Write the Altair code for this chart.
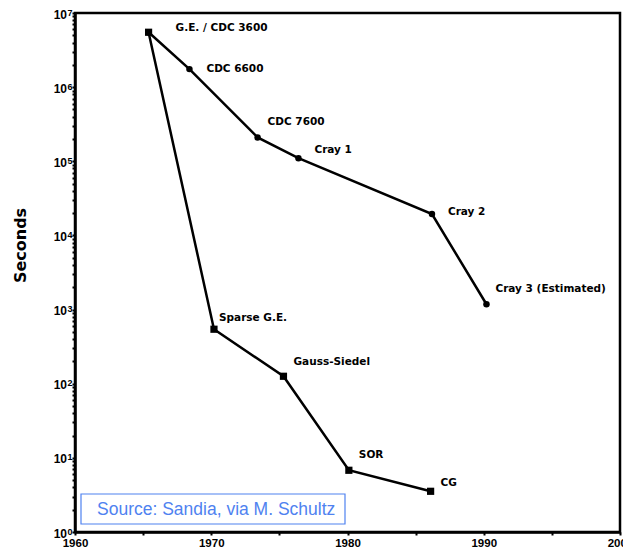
import altair as alt
import pandas as pd

# Hardware (supercomputers)
hw_names = ["G.E. / CDC 3600", "CDC 6600", "CDC 7600", "Cray 1", "Cray 2", "Cray 3 (Estimated)"]
hw_years = [1965.4, 1968.4, 1973.4, 1976.4, 1986.2, 1990.2]
hw_seconds = [5.5e6, 1.75e6, 2.1e5, 1.1e5, 1.94e4, 1.18e3]

# Algorithms
alg_names = ["G.E.", "Sparse G.E.", "Gauss-Siedel", "SOR", "CG"]
alg_years = [1965.4, 1970.2, 1975.3, 1980.1, 1986.1]
alg_seconds = [5.5e6, 543, 126, 6.8, 3.54]

x_ticks = [1960, 1965, 1970, 1975, 1980, 1985, 1990, 1995, 2000]
y_ticks = [k * 10 ** e for e in range(0, 7) for k in range(1, 10)] + [10 ** 7]
decade_values = [1, 10, 100, 1000, 10000, 100000, 1000000, 10000000]
decade_exps = ["0", "1", "2", "3", "4", "5", "6", "7"]

source_text = "Source: Sandia, via M. Schultz"

hw = pd.DataFrame({"name": hw_names, "year": hw_years, "seconds": hw_seconds, "series": "Hardware"})
alg = pd.DataFrame({"name": alg_names, "year": alg_years, "seconds": alg_seconds, "series": "Algorithms"})
df = pd.concat([hw, alg], ignore_index=True)
dec = pd.DataFrame({"seconds": decade_values, "exp": decade_exps, "base": "10"})

FONT = "Liberation Sans"
LFONT = "DejaVu Sans"
BLUE = "#4f82f0"

xscale = alt.Scale(domain=[1960, 2000], nice=False, zero=False)
yscale = alt.Scale(type="log", domain=[1, 1e7], nice=False)

xenc = alt.X("year:Q", scale=xscale,
             axis=alt.Axis(values=x_ticks, format="d", labelFlush=False,
                           labelExpr="datum.value % 10 == 0 ? datum.label : ''",
                           title=None, grid=False, domainColor="black", domainWidth=2.5,
                           tickColor="black", tickWidth=2, tickSize=3,
                           labelFont=FONT, labelFontWeight="bold", labelFontSize=11.5,
                           labelColor="black", labelPadding=2, labelBaseline="top"))
yenc = alt.Y("seconds:Q", scale=yscale,
             axis=alt.Axis(values=y_ticks, labels=False,
                           title="Seconds", titleFont=LFONT, titleFontWeight="bold",
                           titleFontSize=16, titleColor="black", titleAngle=270,
                           titleX=-55, titleY=232, titleAlign="center", titleBaseline="middle",
                           grid=False, domainColor="black", domainWidth=2.5,
                           tickColor="black", tickWidth=2, tickSize=3))

base = alt.Chart(df)

lines = base.mark_line(color="black", strokeWidth=2.5).encode(
    x=xenc, y=yenc, detail="series:N")

circles = base.transform_filter(alt.datum.series == "Hardware").mark_point(
    shape="circle", filled=True, color="black", size=42, opacity=1).encode(x="year:Q", y="seconds:Q")

squares = base.transform_filter(alt.datum.series == "Algorithms").mark_point(
    shape="square", filled=True, color="black", size=52, opacity=1).encode(x="year:Q", y="seconds:Q")

label_offsets = {
    "G.E. / CDC 3600": (27, -4),
    "CDC 6600": (17, 0),
    "CDC 7600": (10, -15),
    "Cray 1": (16, -8),
    "Cray 2": (16, -2),
    "Cray 3 (Estimated)": (9, -15),
    "Sparse G.E.": (5, -11),
    "Gauss-Siedel": (10, -14),
    "SOR": (10, -15),
    "CG": (10, -8),
}

labels = []
for nm, (dx, dy) in label_offsets.items():
    labels.append(
        base.transform_filter(alt.datum.name == nm).mark_text(
            align="left", baseline="middle", dx=dx, dy=dy, font=LFONT,
            fontWeight="bold", fontSize=10.5, color="black").encode(
            x="year:Q", y="seconds:Q", text="name:N"))

# y-axis decade labels "10" with superscript exponent
dec_base = alt.Chart(dec).mark_text(align="right", baseline="middle", dy=1.5, font=FONT,
                                    fontWeight="bold", fontSize=12, color="black").encode(
    x=alt.value(-8), y=alt.Y("seconds:Q", scale=yscale), text="base:N")
dec_exp = alt.Chart(dec).mark_text(align="left", baseline="middle", dy=-0.5, font=FONT,
                                   fontWeight="bold", fontSize=9, color="black").encode(
    x=alt.value(-7.5), y=alt.Y("seconds:Q", scale=yscale), text="exp:N")

src_df = pd.DataFrame({"t": [source_text]})
src_box = alt.Chart(src_df).mark_rect(fill="white", stroke=BLUE, strokeWidth=1.2).encode(
    x=alt.value(6), x2=alt.value(270), y=alt.value(481), y2=alt.value(511))
src_txt = alt.Chart(src_df).mark_text(align="left", baseline="middle", font=FONT,
                                      fontSize=17.5, color=BLUE).encode(
    x=alt.value(22), y=alt.value(497), text="t:N")

chart = alt.layer(lines, circles, squares, *labels, dec_base, dec_exp, src_box, src_txt).properties(
    width=545, height=519,
    autosize=alt.AutoSizeParams(type="none"),
    padding={"left": 67, "top": 5, "right": 3, "bottom": 15},
    background="white",
).configure_view(stroke="black", strokeWidth=2.5)

chart.save("out.html", embed_options={"renderer": "svg", "actions": False})
